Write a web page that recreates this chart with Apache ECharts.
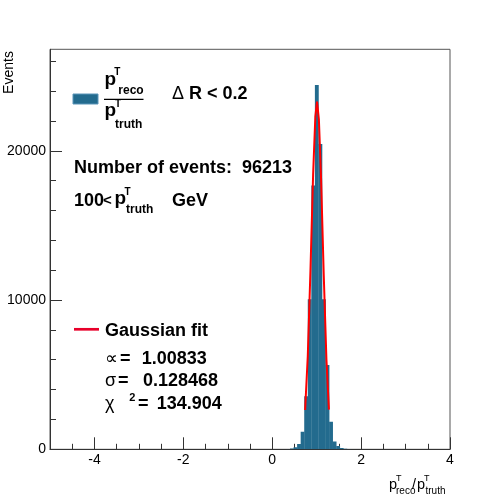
<!DOCTYPE html>
<html><head><meta charset="utf-8">
<script src="https://cdn.jsdelivr.net/npm/echarts@6/dist/echarts.min.js"></script>
<style>html,body{margin:0;padding:0;background:#fff}#c{width:500px;height:500px}</style>
</head><body><div id="c"></div>
<script>
// ---- data ----
const binEdges = [0.24,0.32,0.40,0.48,0.56,0.64,0.72,0.80,0.88,0.96,1.04,1.12,1.20,1.28,1.36,1.44,1.52,1.60,1.68,1.76,1.84];
const counts   = [10,20,50,130,350,1180,3550,10060,17670,24400,20450,10060,5640,1850,520,220,90,40,20,10];
const fitX = [0.74,0.80,0.86,0.92,0.97,1.008,1.05,1.10,1.16,1.22,1.276];
const fitY = [2630,6256,11960,18395,22286,23300,22107,18062,11606,5997,2658];
const xMajorTicks = [-4,-2,0,2,4];
const xMinorTicks = [-4.5,-3.5,-3,-2.5,-1.5,-1,-0.5,0.5,1,1.5,2.5,3,3.5];
const yMajorTicks = [0,10000,20000];
const yMinorTicks = [2000,4000,6000,8000,12000,14000,16000,18000,22000,24000,26000];
const xRange = [-5,4];
const yRange = [0,26800];

const FF = '"Liberation Sans", Arial, Helvetica, sans-serif';
const AX = '#333';
const BAR = '#236b8e';

function t(text, x, y, size, bold, extra) {
  const o = {type:'text', x:x, y:y, z:100,
    style:{text:text, fill:'#000', font:(bold?'bold ':'')+size+'px '+FF,
      textAlign:'left', align:'left', textVerticalAlign:'middle', verticalAlign:'middle'}};
  if (extra) Object.assign(o, extra);
  if (extra && extra.center) { o.style.textAlign='center'; o.style.align='center'; delete o.center; }
  return o;
}

const graphics = [
  // legend
  {type:'rect', shape:{x:73,y:94,width:25,height:10}, style:{fill:BAR, stroke:'#5b95b8', lineWidth:1}, z:100},
  t('p',104.5,79.5,19,true), t('T',114.3,72.3,10,true), t('reco',118.3,91,12,true),
  {type:'line', shape:{x1:104,y1:99.3,x2:143.5,y2:99.3}, style:{stroke:'#000', lineWidth:1.3}, z:100},
  t('p',104.5,110.4,19,true), t('T',115,104,10,true), t('truth',115,124.5,12,true),
  t('\u0394',172,94.5,18,false), t('R < 0.2',189,94.5,18,true),
  t('Number of events:  96213',74,168.2,18,true),
  t('100',74,201,18,true), t('<',103,201,15,true), t('p',114.5,198.4,19,true), t('T',124.5,192,10,true),
  t('truth',126,210,12,true), t('GeV',172,201,18,true),
  {type:'line', shape:{x1:74,y1:329.3,x2:99,y2:329.3}, style:{stroke:'#e8002a', lineWidth:2.7}, z:100},
  t('Gaussian fit',105,330.7,18,true),
  t('\u221D',105,359.3,18,false), t('=',120,359.3,18,true), t('1.00833',141.7,359.3,18,true),
  t('\u03C3',105,380.7,18,false), t('=',118,380.7,18,true), t('0.128468',143,380.7,18,true),
  t('\u03C7',105,404,18,false), t('2',129.3,398,11,true), t('=',138,404,18,true), t('134.904',156.7,404,18,true),
  // x title
  t('p',389,484.7,14.5,false), t('T',396,479,9,false), t('reco',396,491.7,10,false),
  t('/',412,485,14.5,false), t('p',417,484.7,14.5,false), t('T',424,479,9,false), t('truth',425.5,491.7,10,false),
  // y title
  t('Events',9,72.5,14,false,{rotation:Math.PI/2, center:true})
];

const histData = counts.map((c,i)=>[binEdges[i], binEdges[i+1], c]);
const fitData = fitX.map((x,i)=>[x, fitY[i]]);
const plain = v => String(v);

const chart = echarts.init(document.getElementById('c'), null, {renderer:'canvas'});
chart.setOption({
  animation:false,
  backgroundColor:'#fff',
  grid:{left:50, top:49.3, width:400, height:400, show:true, borderColor:'#555', borderWidth:1, backgroundColor:'transparent', containLabel:false},
  xAxis:[
    {type:'value', position:'bottom', min:xRange[0], max:xRange[1],
      axisLine:{show:true, onZero:false, lineStyle:{color:AX, width:1}},
      axisTick:{show:true, inside:true, length:12, customValues:xMajorTicks, lineStyle:{color:AX}},
      axisLabel:{show:true, customValues:xMajorTicks, formatter:plain, margin:4, color:'#000', fontSize:14, fontFamily:FF},
      splitLine:{show:false}},
    {type:'value', position:'bottom', offset:0, min:xRange[0], max:xRange[1],
      axisLine:{show:false, onZero:false},
      axisTick:{show:true, inside:true, length:5.5, customValues:xMinorTicks, lineStyle:{color:AX}},
      axisLabel:{show:false}, splitLine:{show:false}}
  ],
  yAxis:[
    {type:'value', position:'left', min:yRange[0], max:yRange[1],
      axisLine:{show:true, onZero:false, lineStyle:{color:AX, width:1}},
      axisTick:{show:true, inside:true, length:12, customValues:yMajorTicks, lineStyle:{color:AX}},
      axisLabel:{show:true, customValues:yMajorTicks, formatter:plain, margin:4, color:'#000', fontSize:14, fontFamily:FF},
      splitLine:{show:false}},
    {type:'value', position:'left', offset:0, min:yRange[0], max:yRange[1],
      axisLine:{show:false, onZero:false},
      axisTick:{show:true, inside:true, length:6, customValues:yMinorTicks, lineStyle:{color:AX}},
      axisLabel:{show:false}, splitLine:{show:false}}
  ],
  graphic:graphics,
  series:[
    {type:'custom', xAxisIndex:0, yAxisIndex:0, encode:{x:[0,1], y:2}, data:histData, clip:true,
      renderItem:function(params, api){
        const p0 = api.coord([api.value(0), 0]);
        const p1 = api.coord([api.value(1), api.value(2)]);
        return {type:'rect', shape:{x:p0[0], y:p1[1], width:p1[0]-p0[0]+0.3, height:p0[1]-p1[1]},
          style:{fill:BAR}};
      }},
    {type:'line', xAxisIndex:0, yAxisIndex:0, data:fitData, showSymbol:false, symbol:'none',
      lineStyle:{color:'#ff0000', width:2}, z:5}
  ]
});
</script></body></html>
